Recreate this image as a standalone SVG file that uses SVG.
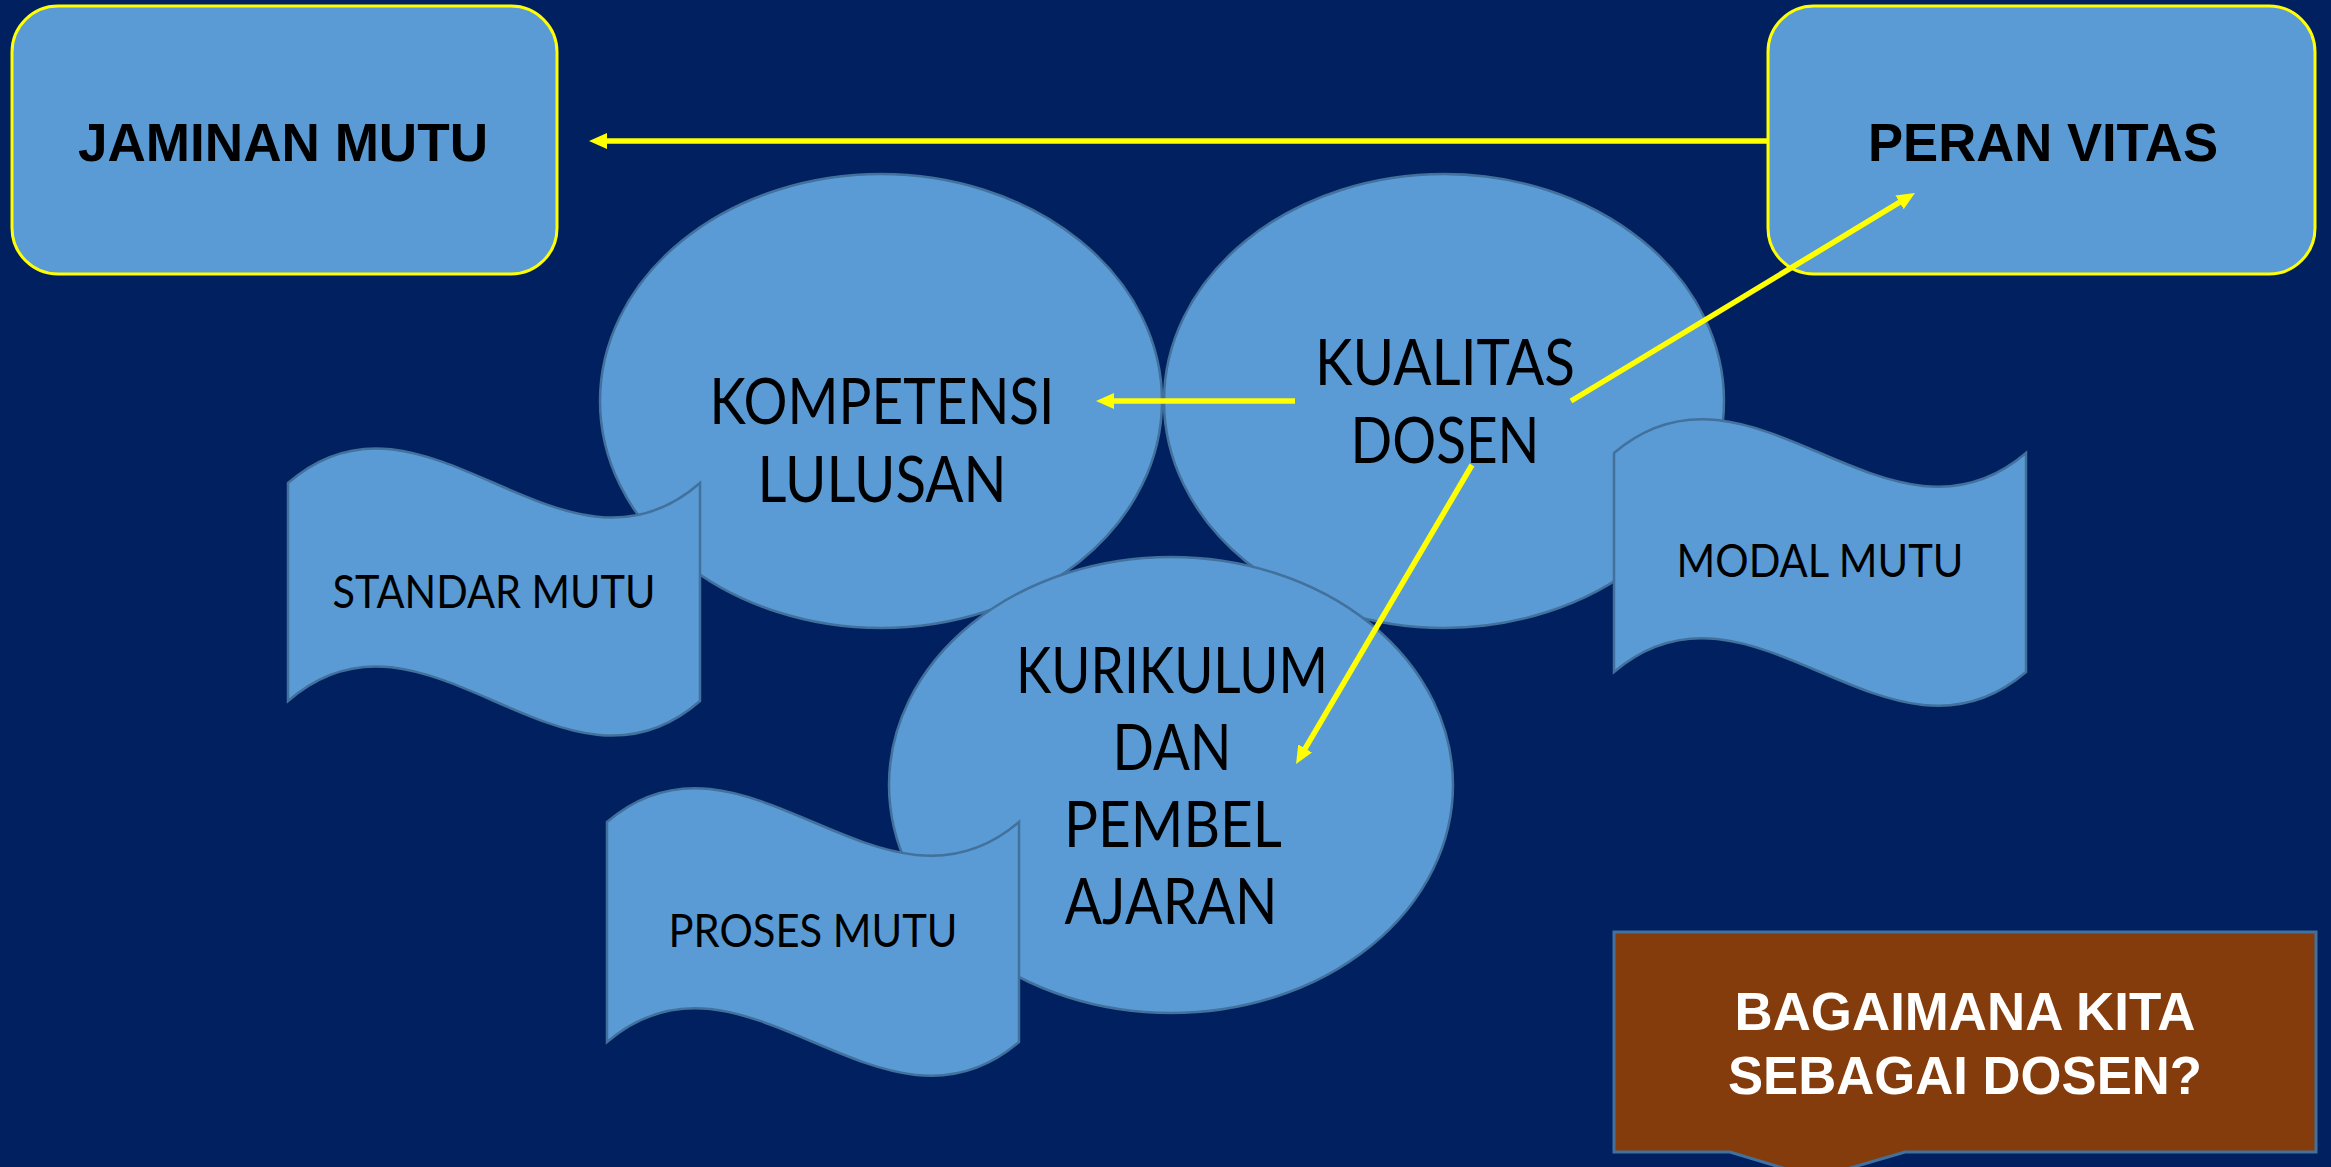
<svg xmlns="http://www.w3.org/2000/svg" width="2331" height="1167" viewBox="0 0 2331 1167">
<defs>
<style>
.box{fill:#5B9BD5;stroke:#FFFF00;stroke-width:3}
.ell{fill:#5B9BD5;stroke:#41719C;stroke-width:2.5}
.wave{fill:#5B9BD5;stroke:#41719C;stroke-width:2.5}
.call{fill:#843C0C;stroke:#41719C;stroke-width:3}
.hb{font-family:"Liberation Sans",Arial,sans-serif;font-weight:bold;font-size:54px;fill:#000;text-anchor:middle}
.hw{font-family:"Liberation Sans",Arial,sans-serif;font-weight:bold;font-size:53px;fill:#fff;text-anchor:middle}
.cb{font-family:Lato,"Open Sans",sans-serif;font-size:64px;fill:#000;text-anchor:middle}
.cs{font-family:Lato,"Open Sans",sans-serif;font-size:47px;fill:#000;text-anchor:middle}
.con{stroke:#FFFF00;stroke-width:5.5;fill:none;marker-end:url(#ah)}
</style>
<marker id="ah" markerUnits="userSpaceOnUse" viewBox="0 0 18 16" markerWidth="18" markerHeight="16" refX="8" refY="8" orient="auto">
<path d="M0,0 L18,8 L0,16 Z" fill="#FFFF00"/>
</marker>
</defs>
<rect x="0" y="0" width="2331" height="1167" fill="#002060"/>

<g id="jaminan-mutu">
<rect class="box" x="12" y="6" width="545" height="268" rx="46" ry="46"/>
<text class="hb" x="283" y="161" textLength="410" lengthAdjust="spacingAndGlyphs">JAMINAN MUTU</text>
</g>

<g id="peran-vitas">
<rect class="box" x="1768" y="6" width="547" height="268" rx="46" ry="46"/>
<text class="hb" x="2043" y="161" textLength="350" lengthAdjust="spacingAndGlyphs">PERAN VITAS</text>
</g>

<g id="kompetensi-lulusan">
<ellipse class="ell" cx="881" cy="401" rx="281" ry="227"/>
<text class="cb" x="882" y="424" textLength="345" lengthAdjust="spacingAndGlyphs">KOMPETENSI</text>
<text class="cb" x="882" y="502" textLength="249" lengthAdjust="spacingAndGlyphs">LULUSAN</text>
</g>

<g id="kualitas-dosen">
<ellipse class="ell" cx="1444" cy="401" rx="280" ry="227"/>
<text class="cb" x="1445" y="385" textLength="260" lengthAdjust="spacingAndGlyphs">KUALITAS</text>
<text class="cb" x="1445" y="463" textLength="189" lengthAdjust="spacingAndGlyphs">DOSEN</text>
</g>

<g id="kurikulum">
<ellipse class="ell" cx="1171" cy="785" rx="282" ry="228"/>
<text class="cb" x="1172" y="693" textLength="312" lengthAdjust="spacingAndGlyphs">KURIKULUM</text>
<text class="cb" x="1172" y="770" textLength="119" lengthAdjust="spacingAndGlyphs">DAN</text>
<text class="cb" x="1173" y="847" textLength="218" lengthAdjust="spacingAndGlyphs">PEMBEL</text>
<text class="cb" x="1171" y="924" textLength="213" lengthAdjust="spacingAndGlyphs">AJARAN</text>
</g>

<g id="standar-mutu">
<path class="wave" d="M288,483 C425.3,363 562.7,603 700,483 L700,701 C562.7,821 425.3,581 288,701 Z"/>
<text class="cs" x="494" y="608" textLength="323" lengthAdjust="spacingAndGlyphs">STANDAR MUTU</text>
</g>

<g id="modal-mutu">
<path class="wave" d="M1614,453 C1751.3,336 1888.7,570 2026,453 L2026,672 C1888.7,789 1751.3,555 1614,672 Z"/>
<text class="cs" x="1820" y="577" textLength="287" lengthAdjust="spacingAndGlyphs">MODAL MUTU</text>
</g>

<g id="proses-mutu">
<path class="wave" d="M607,822 C744.3,705 881.7,939 1019,822 L1019,1042 C881.7,1159 744.3,925 607,1042 Z"/>
<text class="cs" x="813" y="947" textLength="289" lengthAdjust="spacingAndGlyphs">PROSES MUTU</text>
</g>

<g id="bagaimana">
<path class="call" d="M1614,932 L2316,932 L2316,1152 L1905,1152 L1816,1178 L1730,1152 L1614,1152 Z"/>
<text class="hw" x="1965" y="1030" textLength="461" lengthAdjust="spacingAndGlyphs">BAGAIMANA KITA</text>
<text class="hw" x="1965" y="1094" textLength="474" lengthAdjust="spacingAndGlyphs">SEBAGAI DOSEN?</text>
</g>

<g id="connectors">
<path class="con" d="M1768,141 L599,141"/>
<path class="con" d="M1295,401 L1106,401"/>
<path class="con" d="M1571,401 L1906.4,198.2"/>
<path class="con" d="M1472,465 L1301.1,755.4"/>
</g>
</svg>
